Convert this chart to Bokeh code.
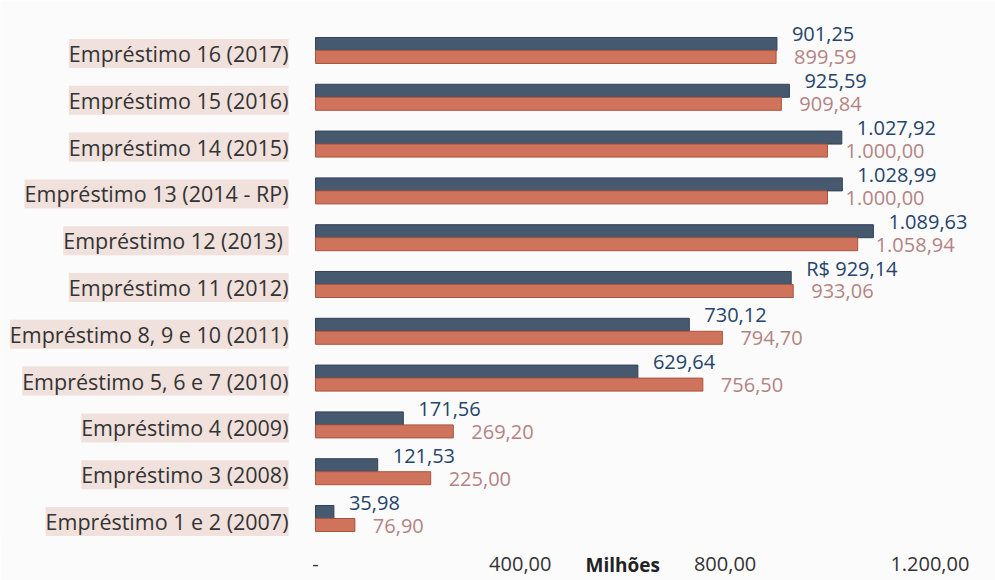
from bokeh.plotting import figure
from bokeh.models import ColumnDataSource, LabelSet, FixedTicker, LinearAxis
from bokeh.core.properties import value
from bokeh.embed import file_html
from bokeh.resources import INLINE

categories = [
    "Empréstimo 16 (2017)",
    "Empréstimo 15 (2016)",
    "Empréstimo 14 (2015)",
    "Empréstimo 13 (2014 - RP)",
    "Empréstimo 12  (2013)",
    "Empréstimo 11 (2012)",
    "Empréstimo 8, 9 e 10 (2011)",
    "Empréstimo 5, 6 e 7 (2010)",
    "Empréstimo 4 (2009)",
    "Empréstimo 3 (2008)",
    "Empréstimo 1 e 2 (2007)",
]
blue_values = [901.25, 925.59, 1027.92, 1028.99, 1089.63, 929.14, 730.12, 629.64, 171.56, 121.53, 35.98]
red_values = [899.59, 909.84, 1000.00, 1000.00, 1058.94, 933.06, 794.70, 756.50, 269.20, 225.00, 76.90]
blue_prefix = ["", "", "", "", "", "R$ ", "", "", "", "", ""]
x_ticks = [0, 400, 800, 1200]
axis_unit = "Milhões"
axis_unit_pos = 600


def fmt(v):
    s = f"{v:,.2f}"
    return s.replace(",", "X").replace(".", ",").replace("X", ".")


n = len(categories)
ypos = [n - 1 - i for i in range(n)]
BAR_H = 0.278

src = ColumnDataSource(dict(
    cat=categories,
    y=ypos,
    yb=[y + BAR_H / 2 for y in ypos],
    yr=[y - BAR_H / 2 for y in ypos],
    blue=blue_values,
    red=red_values,
    blue_lbl=[pre + fmt(v) for pre, v in zip(blue_prefix, blue_values)],
    red_lbl=[fmt(v) for v in red_values],
))

p = figure(frame_width=995, frame_height=540,
           x_range=(-615.2, 1328.1), y_range=(-0.470, 11.068),
           output_backend="svg", toolbar_location=None,
           y_axis_location=None, min_border=0)
p.background_fill_color = "#fbfbfc"
p.border_fill_color = "#fbfbfc"
p.outline_line_color = None
p.xgrid.visible = False
p.ygrid.visible = False

p.hbar(y="yb", right="blue", left=0, height=BAR_H, source=src,
       fill_color="#47596f", line_color="#33425a", line_width=1)
p.hbar(y="yr", right="red", left=0, height=BAR_H, source=src,
       fill_color="#d0735c", line_color="#a8553f", line_width=1)

FONT = "Open Sans"
cat_labels = LabelSet(x=0, y="y", text="cat", source=src, x_offset=-27, y_offset=-3,
                      text_align="right", text_baseline="middle",
                      text_font=value(FONT), text_font_size="21.5px", text_color="#333333",
                      background_fill_color="#ecd8d3", background_fill_alpha=0.75)
p.add_layout(cat_labels)

blue_labels = LabelSet(x="blue", y="y", text="blue_lbl", source=src,
                       x_offset=15, y_offset=16, text_align="left", text_baseline="middle",
                       text_font=value(FONT), text_font_size="20px", text_color="#25446a")
red_labels = LabelSet(x="red", y="y", text="red_lbl", source=src,
                      x_offset=18, y_offset=-7, text_align="left", text_baseline="middle",
                      text_font=value(FONT), text_font_size="20px", text_color="#b48383")
p.add_layout(blue_labels)
p.add_layout(red_labels)


def style_axis(a, size, bold=False, color="#333333"):
    a.axis_line_color = None
    a.major_tick_line_color = None
    a.minor_tick_line_color = None
    a.major_label_text_font = FONT
    a.major_label_text_font_size = size
    a.major_label_text_color = color
    if bold:
        a.major_label_text_font_style = "bold"


ax = p.xaxis[0]
ax.ticker = FixedTicker(ticks=x_ticks)
ax.major_label_overrides = {t: ("-" if t == 0 else fmt(t)) for t in x_ticks}
ax.major_label_standoff = 10
style_axis(ax, "20px")

unit_axis = LinearAxis(ticker=FixedTicker(ticks=[axis_unit_pos]),
                       major_label_overrides={axis_unit_pos: axis_unit})
unit_axis.major_label_standoff = -28
style_axis(unit_axis, "19px", bold=True, color="#222222")
p.add_layout(unit_axis, "below")

open("out.html", "w").write(file_html(p, INLINE))
